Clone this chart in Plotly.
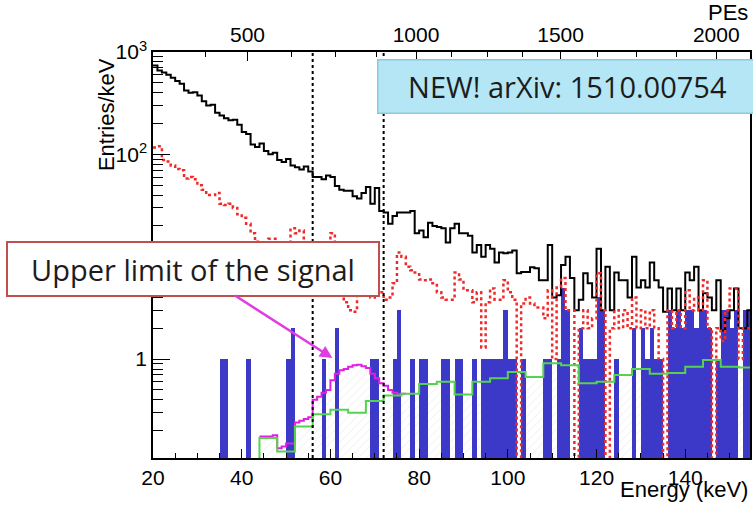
import numpy as np
import plotly.graph_objects as go

# ---------------- data (1 keV bins, lower edges 20..154) ----------------
bin_lo = list(range(20, 155))

black_total = [
    740, 660, 630, 600, 560, 520, 490, 420, 400, 405,      # 20-29
    375, 330, 300, 305, 255, 240, 225, 215, 218, 195,      # 30-39
    165, 158, 125, 118, 128, 108, 100, 104, 88, 84,        # 40-49
    90, 78, 75, 71, 76, 68, 60, 60, 57, 62,                # 50-59
    60, 49, 45, 44, 44, 39, 37, 42, 48, 33,                # 60-69
    47, 28, 27, 21, 25, 27, 27, 27, 28, 17,                # 70-79
    18, 15.5, 21.5, 20, 19.5, 19, 13.8, 19, 21, 17,        # 80-89
    17, 16, 11, 13, 10, 13, 12, 8.8, 11, 10.8,             # 90-99
    11, 11.5, 6.9, 7.1, 7.1, 7.9, 7.7, 5.9, 5.9, 13,       # 100-109
    4.0, 4.2, 8.3, 10, 6.2, 3, 3.8, 6.9, 5.5, 4.0,         # 110-119
    12, 3, 8, 3, 7, 5.9, 5.9, 4, 10, 5,                    # 120-129
    5.9, 5, 8.8, 5.9, 5, 2.9, 4.9, 3, 4.9, 3,              # 130-139
    7, 5.9, 8, 3, 4.4, 4, 3, 5.9, 1.9, 2.5,                # 140-149
    3, 4.9, 2, 2, 3,                                       # 150-154
]

red_after_cuts = [
    117, 120, 88, 85, 78, 72, 70, 58, 60, 57,              # 20-29
    50, 45, 40, 40, 42, 33, 32, 33, 30, 26,                # 30-39
    24, 21, 17, 14, 12, 11, 15, 15, 12, 10,                # 40-49
    11, 19, 17, 18, 13, 9, 8, 8, 9, 10,                    # 50-59
    17, 12, 8, 3.6, 3, 2.9, 6, 8, 4.7, 4,                  # 60-69
    4.5, 4.5, 3.8, 4.0, 5.5, 11, 10, 8, 7.4, 7,            # 70-79
    6, 5.9, 6, 5.5, 4.5, 4, 3.8, 3.8, 7, 6,                # 80-89
    4.7, 4.7, 3.6, 4.5, 1.3, 3.6, 4.9, 3.8, 3.8, 5.9,      # 90-99
    4.5, 3.8, 0, 3.5, 4, 3.5, 3.2, 3.2, 2.5, 4.7,          # 100-109
    1, 5, 6.2, 3, 3, 0, 2, 3, 2, 2.5,                      # 110-119
    6.9, 3, 0, 2, 3, 2, 3, 2, 4, 2,                        # 120-129
    3, 2, 3, 2, 1, 0, 3, 2, 3, 2,                          # 130-139
    4.7, 3, 4, 3, 5.9, 2, 0, 2, 1.5, 3,                    # 140-149
    4.9, 4.9, 1, 2, 2,                                     # 150-154
]

blue_final = [
    0, 0, 0, 0, 0, 0, 0, 0, 0, 0,      # 20-29
    0, 0, 0, 0, 0, 1, 1, 0, 0, 0,      # 30-39
    0, 1, 0, 0, 0, 0, 0, 0, 0, 0,      # 40-49
    1, 2, 0, 0, 0, 0, 0, 0, 1, 0,      # 50-59
    0, 2, 0, 0, 0, 0, 0, 0, 0, 1,      # 60-69
    1, 0, 0, 0, 1, 3, 0, 0, 1, 0,      # 70-79
    1, 1, 0, 0, 0, 1, 1, 0, 1, 1,      # 80-89
    0, 0, 1, 0, 1, 1, 1, 1, 1, 3,      # 90-99
    1, 1, 0, 1, 0, 0, 0, 0, 1, 1,      # 100-109
    0, 1, 5, 3, 0, 0, 2, 1, 1, 1,      # 110-119
    4, 3, 0, 0, 1, 0, 0, 0, 2, 0,      # 120-129
    2, 1, 2, 1, 1, 0, 3, 2, 3, 2,      # 130-139
    3, 3, 2, 3, 3, 2, 0, 1, 3, 3,      # 140-149
    2, 3, 0, 3, 3,                     # 150-154
]

# background estimate, 4 keV bins, lower edges 20..152
bkg_lo = list(range(20, 156, 4))
bkg_vals = [0, 0, 0, 0, 0, 0, 0.17, 0.125, 0.22, 0.29, 0.32, 0.30, 0.39, 0.44,
            0.46, 0.57, 0.60, 0.45, 0.60, 0.65, 0.75, 0.67, 0.91, 0.87, 0.58,
            0.60, 0.70, 0.80, 0.72, 0.73, 0.84, 0.98, 0.84, 0.83]

# signal upper limit + background, 1 keV bins 44..76
sig_lo = list(range(44, 77))
sig_vals = [0.175, 0.175, 0.175, 0.18, 0.135, 0.14, 0.15, 0.15, 0.24, 0.25,
            0.26, 0.27, 0.40, 0.43, 0.47, 0.50, 0.62, 0.72, 0.78, 0.80, 0.84,
            0.87, 0.88, 0.85, 0.82, 0.72, 0.65, 0.58, 0.55, 0.50, 0.47, 0.46,
            0.46]

window_kev = [56, 72]

# top axis (photo-electrons) tick positions read in keV
pe_major_labels = ["500", "1000", "1500", "2000"]
pe_major_kev = [41.3, 79.3, 111.9, 147.0]
pe_minor_kev = [31.9, 51.2, 61.1, 70.3, 87.4, 95.5, 103.4, 120.2, 129.0, 138.0]

# y tick labels (the "10" label is hidden behind the box in the reference)
y_tick_vals = [1, 10, 100, 1000]
y_tick_text = ["1", "", "10<sup>2</sup>", "10<sup>3</sup>"]

# ---------------- helpers ----------------
FLOOR = 1e-3


def step_xy(lo, vals, width):
    x = list(lo) + [lo[-1] + width]
    v = [val if val > 0 else FLOOR for val in vals]
    y = v + [v[-1]]
    return x, y


centers = [b + 0.5 for b in bin_lo]

# hatch under (signal + background)
bkg_1kev = {b: bkg_vals[(b - 20) // 4] for b in bin_lo}
sig_1kev = dict(zip(sig_lo, sig_vals))
hatch = []
for b in bin_lo:
    h = max(bkg_1kev[b], sig_1kev.get(b, 0))
    hatch.append(h if h > 0 else None)

fig = go.Figure()

fig.add_trace(go.Bar(
    x=centers, y=hatch, width=1,
    marker=dict(color="rgba(0,0,0,0)", line=dict(width=0),
                pattern=dict(shape="/", fgcolor="#d2d2d2",
                             bgcolor="rgba(0,0,0,0)", size=6, solidity=0.12)),
    hoverinfo="skip", showlegend=False))

fig.add_trace(go.Bar(
    x=centers, y=[v if v > 0 else None for v in blue_final], width=1,
    marker=dict(color="#3d39c8", line=dict(width=0)),
    showlegend=False))

x, y = step_xy(bin_lo, black_total, 1)
fig.add_trace(go.Scatter(x=x, y=y, mode="lines", line_shape="hv",
                         line=dict(color="black", width=2), showlegend=False))

x, y = step_xy(bin_lo, red_after_cuts, 1)
fig.add_trace(go.Scatter(x=x, y=y, mode="lines", line_shape="hv",
                         line=dict(color="#f02a2a", width=2.5, dash="3px,3px"),
                         showlegend=False))

x, y = step_xy(sig_lo, sig_vals, 1)
fig.add_trace(go.Scatter(x=x, y=y, mode="lines", line_shape="hv",
                         line=dict(color="#e020e0", width=2), showlegend=False))

x, y = step_xy(bkg_lo, bkg_vals, 4)
fig.add_trace(go.Scatter(x=x, y=y, mode="lines", line_shape="hv",
                         line=dict(color="#55d24f", width=2), showlegend=False,
                         xaxis="x2"))

for wx in window_kev:
    fig.add_vline(x=wx, line=dict(color="black", width=2, dash="3px,3px"))

XR = [20, 154.6]
YR = [-0.966, 3.0]
AXFONT = dict(family="Liberation Sans, Arial, sans-serif", size=21, color="black")

fig.update_layout(
    width=753, height=511,
    margin=dict(l=153, r=1, t=52, b=53),
    plot_bgcolor="white", paper_bgcolor="white",
    barmode="overlay", bargap=0, showlegend=False,
    font=AXFONT,
    xaxis=dict(range=XR, showgrid=False, zeroline=False, showline=True,
               linecolor="black", linewidth=1.5, ticks="inside", ticklen=9,
               tickwidth=1.3, tickcolor="black",
               tickvals=[20, 40, 60, 80, 100, 120, 140],
               tickfont=AXFONT,
               minor=dict(ticks="inside", ticklen=5, tick0=20, dtick=5,
                          tickcolor="black", tickwidth=1.2, showgrid=False)),
    xaxis2=dict(range=XR, overlaying="x", side="top", showgrid=False,
                zeroline=False, showline=True, linecolor="black",
                linewidth=1.5, ticks="inside", ticklen=9, tickwidth=1.3,
                tickcolor="black", tickvals=pe_major_kev,
                ticktext=pe_major_labels, tickfont=AXFONT,
                minor=dict(ticks="inside", ticklen=5, tickvals=pe_minor_kev,
                           tickcolor="black", tickwidth=1.2, showgrid=False)),
    yaxis=dict(type="log", range=YR, showgrid=False, zeroline=False,
               showline=True, mirror=True, linecolor="black", linewidth=1.5,
               ticks="inside", ticklen=17, tickwidth=1.3, tickcolor="black",
               tickvals=y_tick_vals, ticktext=y_tick_text,
               tickfont=AXFONT,
               minor=dict(ticks="inside", ticklen=10, tickcolor="black",
                          tickwidth=1.2, showgrid=False,
                          tickvals=[k * 10.0 ** e for e in (-1, 0, 1, 2)
                                    for k in range(2, 10)])),
)

BOXFONT = dict(family="Open Sans, Noto Sans, sans-serif", size=29,
               color="#1c1c1c")

fig.add_annotation(text="Entries/keV", textangle=-90, xref="paper",
                   yref="paper", x=-0.0768, y=0.845, xanchor="center",
                   yanchor="middle", showarrow=False,
                   font=dict(family=AXFONT["family"], size=22, color="black"))
fig.add_annotation(text="Energy (keV)", xref="paper", yref="paper", x=1.0,
                   y=-0.0764, xanchor="right", yanchor="middle",
                   showarrow=False,
                   font=dict(family=AXFONT["family"], size=22, color="black"))
fig.add_annotation(text="PEs", xref="paper", yref="paper", x=1.0, y=1.0985,
                   xanchor="right", yanchor="middle", showarrow=False,
                   font=dict(family=AXFONT["family"], size=22, color="black"))

fig.add_annotation(text="NEW! arXiv: 1510.00754", xref="paper", yref="paper",
                   x=0.3756, y=0.9828, xanchor="left", yanchor="top",
                   width=378, height=52, borderpad=0, bgcolor="#b4e6f5",
                   bordercolor="#86cbe0", borderwidth=1.5, showarrow=False,
                   font=BOXFONT)

fig.add_annotation(text="Upper limit of the signal", xref="paper",
                   yref="paper", x=0.3005, y=0.2463, ax=-139.5, ay=-89.5,
                   width=370, height=52, borderpad=0, bgcolor="white",
                   bordercolor="#c0504d", borderwidth=2, showarrow=True,
                   arrowcolor="#e23be2", arrowwidth=2.5, arrowhead=2,
                   arrowsize=1, standoff=0, font=BOXFONT)

fig.write_html("out.html")
